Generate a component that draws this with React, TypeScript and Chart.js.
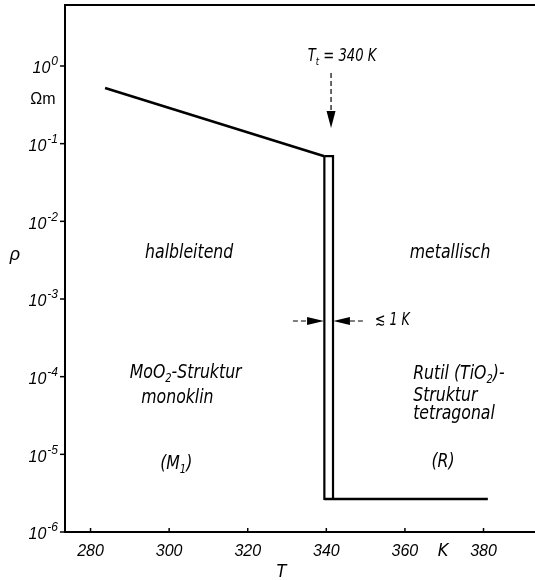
import React, { useEffect, useRef } from "react";
import { Chart, registerables } from "chart.js";

Chart.register(...registerables);

// ---- data ----
const xTickValues = [280, 300, 320, 340, 360, 380];
const yExponents = [0, -1, -2, -3, -4, -5, -6];

const semiT = [283.7, 339.5];
const semiRho = [0.52, 0.069];

const loopT = [339.5, 341.7, 341.7, 339.5, 339.5];
const loopRho = [0.069, 0.069, 2.66e-6, 2.66e-6, 0.069];

const metalT = [339.5, 381.1];
const metalRho = [2.66e-6, 2.66e-6];

// transition arrow (T, rho)
const ttArrowT = 341.2;
const ttArrowRho = [0.81, 0.159]; // dashed top, tip
const ttLabel = { T: 344.0, rho: 1.31 };

// width arrows
const widthRho = 5.21e-4;
const widthLeftT = [331.5, 335.1, 339.4]; // dash start, head base, tip
const widthRightT = [341.8, 346.0, 349.8]; // tip, head base, dash end
const widthLabelT = 352.4;

type Seg = [string, "" | "sub" | "sup"];
type Label = { lines: Seg[]; T: number; rho: number; align: "left" | "center" };

const regionLabels: Label[] = [
  { lines: [["halbleitend", ""]], T: 305.1, rho: 3.91e-3, align: "center" },
  { lines: [["metallisch", ""]], T: 371.5, rho: 3.91e-3, align: "center" },
  { lines: [["MoO", ""], ["2", "sub"], ["-Struktur", ""]], T: 304.2, rho: 1.11e-4, align: "center" },
  { lines: [["monoklin", ""]], T: 302.1, rho: 5.32e-5, align: "center" },
  { lines: [["(M", ""], ["1", "sub"], [")", ""]], T: 301.8, rho: 7.5e-6, align: "center" },
  { lines: [["Rutil (TiO", ""], ["2", "sub"], [")-", ""]], T: 362.1, rho: 1.08e-4, align: "left" },
  { lines: [["Struktur", ""]], T: 362.1, rho: 5.64e-5, align: "left" },
  { lines: [["tetragonal", ""]], T: 362.1, rho: 3.31e-5, align: "left" },
  { lines: [["(R)", ""]], T: 369.7, rho: 7.97e-6, align: "center" },
];

const TEXT_FAMILY = "'Liberation Sans Narrow', 'DejaVu Sans Condensed', 'Liberation Sans', sans-serif";
const NUM_FAMILY = "'Liberation Sans', 'DejaVu Sans', sans-serif";
const INK = "#000";

function drawRich(
  ctx: CanvasRenderingContext2D,
  segs: Seg[],
  x: number,
  y: number,
  align: "left" | "center" | "right",
  size: number,
  family: string,
  condense = 1,
  style = "italic"
) {
  const fontFor = (m: string) => `${style} ${m ? Math.round(size * 0.65) : size}px ${family}`;
  let total = 0;
  const widths = segs.map(([t, m]) => {
    ctx.font = fontFor(m);
    const w = ctx.measureText(t).width;
    total += w;
    return w;
  });
  const scaledTotal = total * condense;
  const startX = align === "left" ? x : align === "center" ? x - scaledTotal / 2 : x - scaledTotal;
  ctx.save();
  ctx.translate(startX, y);
  ctx.scale(condense, 1);
  ctx.textAlign = "left";
  ctx.textBaseline = "middle";
  let cx = 0;
  segs.forEach(([t, m], i) => {
    ctx.font = fontFor(m);
    const dy = m === "sub" ? size * 0.3 : m === "sup" ? -size * 0.38 : 0;
    ctx.fillText(t, cx, dy);
    cx += widths[i];
  });
  ctx.restore();
}

const annotPlugin = {
  id: "annot",
  afterDraw(chart: any) {
    const ctx: CanvasRenderingContext2D = chart.ctx;
    const xs = chart.scales.x;
    const ys = chart.scales.y;
    const area = chart.chartArea;
    const X = (t: number) => xs.getPixelForValue(t);
    const Y = (r: number) => ys.getPixelForValue(r);
    ctx.save();
    ctx.fillStyle = INK;
    ctx.strokeStyle = INK;

    // top frame line
    ctx.lineWidth = 2;
    ctx.beginPath();
    ctx.moveTo(area.left - 1, area.top);
    ctx.lineTo(area.right, area.top);
    ctx.stroke();

    // y ticks (outside) + labels
    ctx.lineWidth = 1.5;
    yExponents.forEach((e) => {
      const py = Y(Math.pow(10, e));
      ctx.beginPath();
      ctx.moveTo(area.left - 5, py);
      ctx.lineTo(area.left, py);
      ctx.stroke();
      const expStr = String(e);
      const endX = area.left - 7;
      ctx.font = `italic 12px ${NUM_FAMILY}`;
      const we = ctx.measureText(expStr).width;
      ctx.textAlign = "left";
      ctx.textBaseline = "middle";
      ctx.fillText(expStr, endX - we, py - 4);
      ctx.font = `italic 16px ${NUM_FAMILY}`;
      ctx.textAlign = "right";
      ctx.fillText("10", endX - we - 1, py + 3);
    });

    // x ticks (inside)
    xTickValues.forEach((v) => {
      const px = X(v);
      ctx.beginPath();
      ctx.moveTo(px, area.bottom);
      ctx.lineTo(px, area.bottom - 4);
      ctx.stroke();
    });

    // axis titles / units
    ctx.font = `16px ${NUM_FAMILY}`;
    ctx.textAlign = "center";
    ctx.textBaseline = "middle";
    ctx.fillText("\u03A9m", area.left - 22, Y(0.365));
    ctx.font = `italic 18px ${NUM_FAMILY}`;
    ctx.fillText("\u03C1", area.left - 50, Y(3.69e-3));
    ctx.font = `italic 18px ${TEXT_FAMILY}`;
    ctx.fillText("K", X(369.7), area.bottom + 19);
    ctx.fillText("T", X(328.6), area.bottom + 40);

    // region labels
    regionLabels.forEach((l) => {
      drawRich(ctx, l.lines, X(l.T), Y(l.rho), l.align, 19, TEXT_FAMILY, 0.92);
    });

    // T_t label
    drawRich(ctx, [["T", ""], ["t", "sub"], [" = 340 K", ""]], X(ttLabel.T), Y(ttLabel.rho), "center", 17, TEXT_FAMILY, 0.86);

    // transition arrow
    const ax = X(ttArrowT);
    const aTop = Y(ttArrowRho[0]);
    const aTip = Y(ttArrowRho[1]);
    const headLen = 17;
    ctx.lineWidth = 1.2;
    ctx.setLineDash([5, 3]);
    ctx.beginPath();
    ctx.moveTo(ax, aTop);
    ctx.lineTo(ax, aTip - headLen);
    ctx.stroke();
    ctx.setLineDash([]);
    ctx.beginPath();
    ctx.moveTo(ax - 4.5, aTip - headLen);
    ctx.lineTo(ax + 4.5, aTip - headLen);
    ctx.lineTo(ax, aTip);
    ctx.closePath();
    ctx.fill();

    // width arrows
    const wy = Y(widthRho);
    ctx.setLineDash([5, 3]);
    ctx.beginPath();
    ctx.moveTo(X(widthLeftT[0]), wy);
    ctx.lineTo(X(widthLeftT[1]), wy);
    ctx.moveTo(X(widthRightT[1]), wy);
    ctx.lineTo(X(widthRightT[2]), wy);
    ctx.stroke();
    ctx.setLineDash([]);
    ctx.beginPath();
    ctx.moveTo(X(widthLeftT[1]), wy - 4);
    ctx.lineTo(X(widthLeftT[1]), wy + 4);
    ctx.lineTo(X(widthLeftT[2]), wy);
    ctx.closePath();
    ctx.fill();
    ctx.beginPath();
    ctx.moveTo(X(widthRightT[1]), wy - 4);
    ctx.lineTo(X(widthRightT[1]), wy + 4);
    ctx.lineTo(X(widthRightT[0]), wy);
    ctx.closePath();
    ctx.fill();
    drawRich(ctx, [["\u2272 1 K", ""]], X(widthLabelT), wy, "left", 17, TEXT_FAMILY, 0.82);

    ctx.restore();
  },
};

export default function App() {
  const ref = useRef<HTMLCanvasElement | null>(null);
  useEffect(() => {
    if (!ref.current) return;
    const pts = (xs: number[], ys: number[]) => xs.map((x, i) => ({ x, y: ys[i] }));
    const common = {
      borderColor: INK,
      pointRadius: 0,
      fill: false,
      tension: 0,
      borderJoinStyle: "miter" as const,
    };
    const chart = new Chart(ref.current, {
      type: "line",
      data: {
        datasets: [
          { ...common, data: pts(semiT, semiRho), borderWidth: 2.6 },
          { ...common, data: pts(loopT, loopRho), borderWidth: 2.2 },
          { ...common, data: pts(metalT, metalRho), borderWidth: 2.6 },
        ],
      },
      options: {
        responsive: false,
        animation: false,
        devicePixelRatio: 1,
        layout: { padding: { top: 5, right: 0, left: 0, bottom: 0 } },
        plugins: { legend: { display: false }, tooltip: { enabled: false } },
        scales: {
          x: {
            type: "linear",
            min: 273.5,
            max: 393.1,
            grid: { display: false, drawTicks: false },
            border: { display: true, color: INK, width: 2 },
            afterBuildTicks: (s: any) => {
              s.ticks = xTickValues.map((v) => ({ value: v }));
            },
            afterFit: (s: any) => {
              s.height = 48;
            },
            ticks: {
              autoSkip: false,
              maxRotation: 0,
              padding: 10,
              color: INK,
              font: { family: NUM_FAMILY, size: 16, style: "italic" },
              callback: (v: any) => String(v),
            },
          },
          y: {
            type: "logarithmic",
            min: 1e-6,
            max: 6.1,
            grid: { display: false, drawTicks: false },
            border: { display: true, color: INK, width: 2 },
            afterBuildTicks: (s: any) => {
              s.ticks = yExponents.map((e) => ({ value: Math.pow(10, e) }));
            },
            afterFit: (s: any) => {
              s.width = 65;
            },
            ticks: { display: false },
          },
        },
      } as any,
      plugins: [annotPlugin],
    });
    return () => chart.destroy();
  }, []);

  return (
    <div style={{ position: "fixed", left: 0, top: 0, width: 535, height: 580, background: "#fff" }}>
      <canvas ref={ref} width={535} height={580} style={{ display: "block" }} />
    </div>
  );
}
